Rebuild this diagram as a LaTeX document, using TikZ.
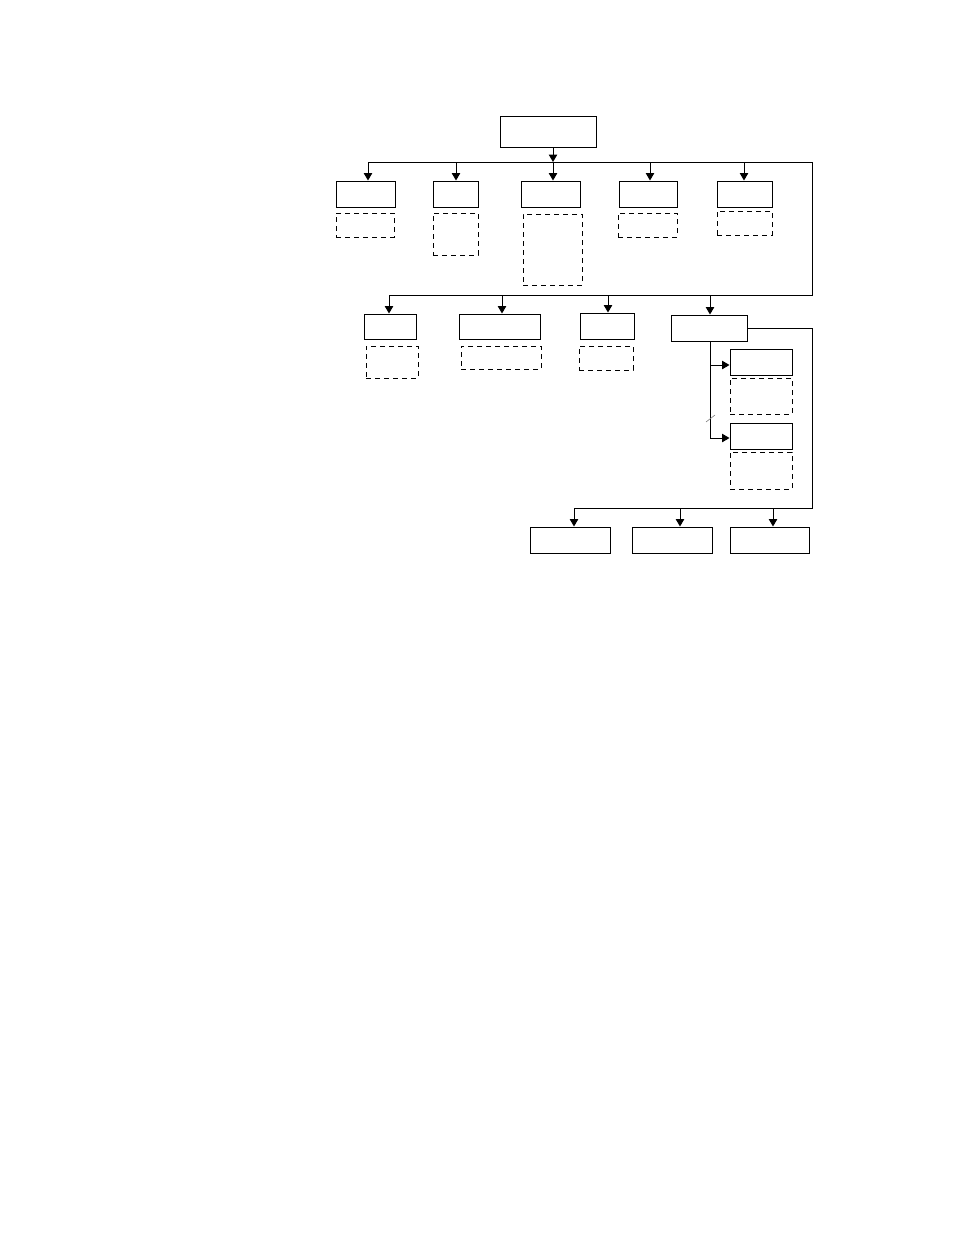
\documentclass[tikz,border=0pt]{standalone}
\usetikzlibrary{arrows.meta}
\begin{document}
\begin{tikzpicture}[x=1pt,y=-1pt,line width=1pt,
      solidbox/.style={draw,rectangle,inner sep=0pt,minimum height=26},
      dashbox/.style={draw,rectangle,inner sep=0pt,dash pattern=on 5pt off 4pt},
      arr/.style={-{Triangle[width=8.5pt,length=7.5pt]}},
    ]
    \useasboundingbox (0,0) rectangle (954,1235);

    % top box
    \node[solidbox,minimum width=96,minimum height=31] (top) at (548,131.5) {};

    % first row
    \node[solidbox,minimum width=59] (B1) at (365.5,194) {};
    \node[solidbox,minimum width=45] (B2) at (455.5,194) {};
    \node[solidbox,minimum width=59] (B3) at (550.5,194) {};
    \node[solidbox,minimum width=58] (B4) at (648,194) {};
    \node[solidbox,minimum width=55] (B5) at (744.5,194) {};
    \node[dashbox,minimum width=58,minimum height=24] (D1) at (365,225) {};
    \node[dashbox,minimum width=45,minimum height=42] (D2) at (455.5,234) {};
    \node[dashbox,minimum width=59,minimum height=71] (D3) at (552.5,249.5) {};
    \node[dashbox,minimum width=59,minimum height=24] (D4) at (647.5,225) {};
    \node[dashbox,minimum width=55,minimum height=24] (D5) at (744.5,223) {};

    % second row
    \node[solidbox,minimum width=52,minimum height=25] (C1) at (390,326.5) {};
    \node[solidbox,minimum width=81,minimum height=25] (C2) at (499.5,326.5) {};
    \node[solidbox,minimum width=54] (C3) at (607,326) {};
    \node[solidbox,minimum width=76] (C4) at (709,328) {};
    \node[dashbox,minimum width=52,minimum height=32] (E1) at (392,362) {};
    \node[dashbox,minimum width=80,minimum height=23] (E2) at (501,357.5) {};
    \node[dashbox,minimum width=54,minimum height=24] (E3) at (606,358) {};

    % branch under C4
    \node[solidbox,minimum width=62] (F1) at (761,362) {};
    \node[dashbox,minimum width=62,minimum height=36] (G1) at (761,396) {};
    \node[solidbox,minimum width=62] (F2) at (761,436) {};
    \node[dashbox,minimum width=62,minimum height=37] (G2) at (761,470.5) {};

    % third row
    \node[solidbox,minimum width=80] (H1) at (570,540) {};
    \node[solidbox,minimum width=80] (H2) at (672,540) {};
    \node[solidbox,minimum width=79] (H3) at (769.5,540) {};

    % buses
    \coordinate (bus1L) at (368,162);
    \coordinate (bus1R) at (812,162);
    \coordinate (bus2L) at (389,295);
    \coordinate (bus2R) at (812,295);
    \coordinate (bus3L) at (574,508);
    \coordinate (bus3R) at (812,508);
    \coordinate (topout) at (553,147);

    \draw[arr] (topout) -- (topout |- bus1L);
    \draw (bus1L) -- (bus1R) -- (bus2R) -- (bus2L);
    \foreach \n/\x in {B1/368,B2/456,B3/553,B4/650,B5/744}
      \draw[arr] (\x,162) -- (\x,162 |- \n.north);
    \foreach \n/\x in {C1/389,C2/502,C3/608,C4/710}
      \draw[arr] (\x,295) -- (\x,295 |- \n.north);

    \draw (C4.east) -- (C4.east -| bus3R) -- (bus3R) -- (bus3L);
    \foreach \n/\x in {H1/574,H2/680,H3/773}
      \draw[arr] (\x,508) -- (\x,508 |- \n.north);

    \coordinate (f1in) at (710,365);
    \coordinate (f2in) at (710,438);
    \draw (C4.south -| f1in) -- (f2in);
    \draw[arr] (f1in) -- (f1in -| F1.west);
    \draw[arr] (f2in) -- (f2in -| F2.west);
    \draw[gray,line width=0.6pt] (706,422) -- (715,415);

\end{tikzpicture}
\end{document}
